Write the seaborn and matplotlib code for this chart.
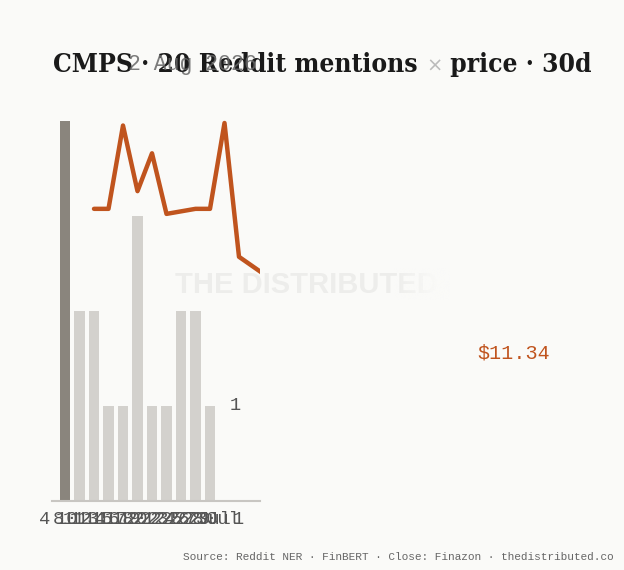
import numpy as np
import pandas as pd
import matplotlib
matplotlib.use("Agg")
import matplotlib.pyplot as plt
import matplotlib.transforms as mtransforms
from matplotlib import font_manager
from matplotlib.colors import to_rgb
import seaborn as sns

# ---- data ----
bar_pos = [0, 1, 2, 3, 4, 5, 6, 7, 8, 9, 10]
mentions = [4, 2, 2, 1, 1, 3, 1, 1, 2, 2, 1]
highlight = ["hi", "lo", "lo", "lo", "lo", "lo", "lo", "lo", "lo", "lo", "lo"]
price_pos = [2, 3, 4, 5, 6, 7, 8, 9, 10, 11, 12, 13, 14]
price = [11.61, 11.61, 11.94, 11.68, 11.83, 11.59, 11.60, 11.61, 11.61, 11.95, 11.42, 11.38, 11.34]
tick_labels = ["4", "8"] + [str(d) for d in range(10, 31)] + ["Jul", "Jul", "1"]
tick_px = [45, 58] + [67 + 7 * k for k in range(21)] + [214, 223, 238]
title_a = "CMPS · 20 Reddit mentions "
title_x = "×"
title_b = " price · 30d"
subtitle = "2 Aug 2026"
last_label = "$11.34"
source = "Source: Reddit NER · FinBERT · Close: Finazon · thedistributed.co"

BG = "#FAFAF8"
DARK = "#8A857D"
LIGHT = "#D3D1CD"
ORANGE = "#C0541E"

sns.set_theme(style="white")
plt.rcParams["font.family"] = ["DejaVu Sans"]

W, H = 624, 570
fig = plt.figure(figsize=(W / 100, H / 100), dpi=100, facecolor=BG)

def px_x(p):
    return p / W

def px_y(p):
    return 1 - p / H

# watermark (behind everything) with a fade at its right end
wm_ax = fig.add_axes([0, 0, 1, 1], zorder=0)
wm_ax.set_xlim(0, W)
wm_ax.set_ylim(H, 0)
wm_ax.axis("off")
wm_ax.text(175, 285, "THE DISTRIBUTED", family="Liberation Sans", weight="bold",
           fontsize=21, color="#EDEDEB", ha="left", va="center")
grad = np.zeros((1, 256, 4))
grad[..., :3] = to_rgb(BG)
grad[..., 3] = np.clip(np.linspace(-0.2, 1.3, 256), 0, 1)
wm_ax.imshow(grad, extent=(385, 450, 300, 268), aspect="auto", zorder=3)
wm_ax.set_xlim(0, W)
wm_ax.set_ylim(H, 0)

ax_l, ax_r, ax_t, ax_b = 52, 260, 110, 501
ax = fig.add_axes([px_x(ax_l), px_y(ax_b), (ax_r - ax_l) / W, (ax_b - ax_t) / H], zorder=1)
ax.set_facecolor("none")

step = 14.5
x0 = 65
xlim = ((ax_l - x0) / step, (ax_r - x0) / step)

df = pd.DataFrame({"pos": bar_pos, "mentions": mentions, "kind": highlight})
sns.barplot(data=df, x="pos", y="mentions", hue="kind", palette={"hi": DARK, "lo": LIGHT},
            native_scale=True, width=0.69, legend=False, ax=ax, saturation=1, linewidth=0)
ax.set_xlim(*xlim)
unit = 95.0
ax.set_ylim(0, (ax_b - ax_t) / unit)

for s in ["top", "right", "left"]:
    ax.spines[s].set_visible(False)
ax.spines["bottom"].set_color("#C8C6C2")
ax.spines["bottom"].set_linewidth(1.5)
ax.set_yticks([])
ax.set_xticks([])
ax.set_xlabel("")
ax.set_ylabel("")

# date labels (some sit left of the axis range, so drawn as texts)
trans = mtransforms.blended_transform_factory(ax.transData, fig.transFigure)
for p, lab in zip(tick_px, tick_labels):
    ax.text((p - x0) / step, px_y(520), lab, transform=trans, family="Liberation Mono",
            fontsize=13.5, color="#555555", ha="center", va="center", clip_on=False)

ax.text((235 - x0) / step, 1, "1", family="Liberation Mono", fontsize=13.5, color="#555555",
        ha="center", va="center")

ax2 = ax.twinx()
ax2.set_facecolor("none")
pdf = pd.DataFrame({"pos": price_pos, "price": price})
sns.lineplot(data=pdf, x="pos", y="price", color=ORANGE, linewidth=3.2, ax=ax2)
ax2.set_xlim(*xlim)
b = 0.61 / 154.0
top_price = 11.95 + (123 - ax_t) * b
bot_price = 11.95 - (ax_b - 123) * b
ax2.set_ylim(bot_price, top_price)
ax2.axis("off")

# last price label
fig.text(px_x(514), px_y(353), last_label, family="Liberation Mono", fontsize=14.5,
         color=ORANGE, ha="center", va="center")

# title pieces, sized to span the reference width
renderer = fig.canvas.get_renderer()
cond = [f for f in font_manager.fontManager.ttflist
        if "Serif" in f.name and "ondensed" in (f.fname + f.name) and f.weight in (700, "bold")]
if cond:
    tprops = font_manager.FontProperties(fname=cond[0].fname)
else:
    tprops = font_manager.FontProperties(family="Liberation Serif", weight="bold")

def draw_title(fs, xfs):
    p = tprops.copy()
    p.set_size(fs)
    t_y = px_y(72)
    t1 = fig.text(px_x(53), t_y, title_a, color="#1A1A1A", ha="left", va="baseline",
                  fontproperties=p)
    bb1 = t1.get_window_extent(renderer)
    t2 = fig.text(bb1.x1 / W, t_y, title_x, color="#BBBBBB", ha="left", va="baseline",
                  family="DejaVu Sans", fontsize=xfs)
    bb2 = t2.get_window_extent(renderer)
    t3 = fig.text(bb2.x1 / W, t_y, title_b, color="#1A1A1A", ha="left", va="baseline",
                  fontproperties=p)
    bb3 = t3.get_window_extent(renderer)
    return [t1, t2, t3], bb3.x1

texts, right = draw_title(27, 14)
fs = 27 * (587 - 53) / (right - 53)
for t in texts:
    t.remove()
draw_title(fs, 14)

fig.text(px_x(128), px_y(70), subtitle, family="Liberation Mono", fontsize=15.5,
         color="#666666", alpha=0.85, ha="left", va="baseline")

fig.text(px_x(614), px_y(557), source, family="Liberation Mono", fontsize=8,
         color="#666666", ha="right", va="center")

fig.savefig("out.png", dpi=100, facecolor=BG)
